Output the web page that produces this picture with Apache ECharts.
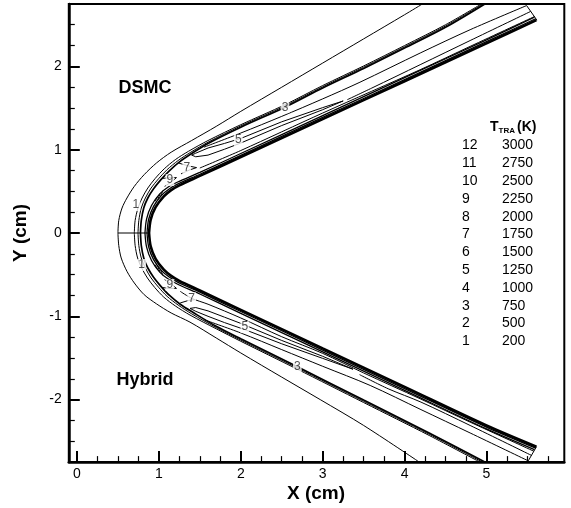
<!DOCTYPE html>
<html>
<head>
<meta charset="utf-8">
<script src="https://cdn.jsdelivr.net/npm/echarts@6/dist/echarts.min.js"></script>
<style>
html,body{margin:0;padding:0;background:#fff;}
#chart{width:571px;height:508px;}
</style>
</head>
<body>
<div id="chart"></div>
<script>
// Translational temperature contours around a blunted cone: DSMC (upper half) vs Hybrid (lower half)
const FONT = '"Liberation Sans", Arial, Helvetica, sans-serif';

// ---- axis ticks ----
const xMajorTicks = [0, 1, 2, 3, 4, 5];
const xMinorTicks = [0.25, 0.5, 0.75, 1.25, 1.5, 1.75, 2.25, 2.5, 2.75, 3.25, 3.5, 3.75, 4.25, 4.5, 4.75, 5.25, 5.5, 5.75];
const yMajorTicks = [-2, -1, 0, 1, 2];
const yMinorTicks = [-2.5, -2.25, -1.75, -1.5, -1.25, -0.75, -0.5, -0.25, 0.25, 0.5, 0.75, 1.25, 1.5, 1.75, 2.25, 2.5];

// ---- contour level table ----
const legendLevels = ['12', '11', '10', '9', '8', '7', '6', '5', '4', '3', '2', '1'];
const legendTemps = ['3000', '2750', '2500', '2250', '2000', '1750', '1500', '1250', '1000', '750', '500', '200'];

// ---- body surface ----
const wallUpper = [[0.88,0],[0.90,0.16],[0.96,0.31],[1.06,0.44],[1.15,0.515],[1.25,0.572],[1.5,0.685],[2.0,0.912],[3.0,1.367],[4.0,1.822],[5.0,2.277],[5.61,2.555]];
const wallLower = [[0.88,0],[0.90,-0.16],[0.96,-0.31],[1.06,-0.44],[1.15,-0.515],[1.25,-0.575],[1.5,-0.69],[2.0,-0.922],[3.0,-1.385],[4.0,-1.847],[5.0,-2.31],[5.61,-2.565]];

// ---- boundary-layer contours hugging the wall ----
const bl1Upper = [[0.855,0],[0.875,0.165],[0.935,0.32],[1.035,0.455],[1.13,0.532],[1.24,0.592],[1.5,0.705],[2.0,0.932],[3.0,1.387],[4.0,1.842],[5.0,2.297],[5.60,2.572]];
const bl2Upper = [[0.83,0],[0.85,0.17],[0.91,0.33],[1.01,0.47],[1.11,0.55],[1.23,0.612],[1.5,0.727],[2.0,0.954],[3.0,1.409],[4.0,1.864],[5.0,2.319],[5.585,2.59]];
const bl1Lower = [[0.855,0],[0.875,-0.165],[0.935,-0.32],[1.035,-0.455],[1.13,-0.532],[1.24,-0.595],[1.5,-0.71],[2.0,-0.942],[3.0,-1.405],[4.0,-1.867],[5.0,-2.33],[5.60,-2.582]];
const bl2Lower = [[0.83,0],[0.85,-0.17],[0.91,-0.33],[1.01,-0.47],[1.11,-0.55],[1.23,-0.615],[1.5,-0.732],[2.0,-0.964],[3.0,-1.427],[4.0,-1.889],[5.0,-2.352],[5.585,-2.60]];

// ---- outermost contour ----
const outerUpper = [[0.50,0],[0.51,0.15],[0.55,0.30],[0.61,0.42],[0.70,0.56],[0.82,0.70],[0.97,0.84],[1.15,0.97],[1.40,1.11],[1.70,1.28],[2.0,1.46],[2.5,1.75],[3.0,2.04],[3.5,2.33],[4.0,2.62],[4.22,2.75]];
const outerLower = [[0.50,0],[0.51,-0.15],[0.54,-0.30],[0.61,-0.46],[0.70,-0.60],[0.82,-0.74],[0.97,-0.85],[1.15,-0.96],[1.38,-1.07],[1.70,-1.26],[2.0,-1.44],[2.5,-1.73],[2.97,-2.0],[3.5,-2.31],[4.18,-2.75]];

// ---- shock band: levels 1, 2, 3 ----
const level1Upper = [[0.70,0],[0.71,0.15],[0.745,0.30],[0.795,0.42],[0.865,0.54],[0.955,0.655],[1.065,0.77],[1.20,0.88],[1.36,0.98],[1.6,1.11],[2.0,1.30],[2.54,1.54],[3.0,1.77],[3.5,2.005],[4.0,2.25],[4.5,2.50],[4.94,2.75]];
const level2Upper = [[0.745,0],[0.755,0.15],[0.785,0.30],[0.835,0.42],[0.905,0.54],[0.995,0.65],[1.10,0.76],[1.235,0.87],[1.39,0.97],[1.6,1.09],[2.0,1.285],[2.54,1.525],[3.0,1.755],[3.5,1.99],[4.0,2.235],[4.5,2.485],[4.96,2.75]];
const level3Upper = [[0.775,0],[0.785,0.15],[0.815,0.30],[0.865,0.42],[0.935,0.53],[1.025,0.64],[1.13,0.75],[1.26,0.86],[1.41,0.96],[1.6,1.075],[2.0,1.27],[2.54,1.51],[3.0,1.74],[3.5,1.975],[4.0,2.22],[4.5,2.47],[4.98,2.75]];
const level1Lower = [[0.70,0],[0.71,-0.15],[0.74,-0.30],[0.79,-0.42],[0.86,-0.54],[0.95,-0.655],[1.06,-0.77],[1.20,-0.875],[1.38,-0.985],[1.7,-1.15],[2.0,-1.30],[2.68,-1.63],[3.5,-2.035],[4.3,-2.43],[4.92,-2.75]];
const level2Lower = [[0.745,0],[0.755,-0.15],[0.785,-0.30],[0.835,-0.42],[0.905,-0.54],[0.995,-0.65],[1.10,-0.76],[1.235,-0.865],[1.40,-0.97],[1.7,-1.135],[2.0,-1.285],[2.68,-1.615],[3.5,-2.02],[4.3,-2.415],[4.95,-2.75]];
const level3Lower = [[0.775,0],[0.785,-0.15],[0.815,-0.30],[0.865,-0.42],[0.935,-0.53],[1.025,-0.64],[1.13,-0.75],[1.26,-0.855],[1.42,-0.955],[1.7,-1.12],[2.0,-1.27],[2.68,-1.60],[3.5,-2.005],[4.3,-2.40],[4.98,-2.75]];

// ---- level 4 branch running to the outflow edge ----
const level4Upper = [[1.55,1.03],[2.0,1.20],[2.5,1.40],[3.0,1.61],[3.455,1.81],[4.19,2.16],[4.8,2.44],[5.49,2.73]];
const level4Lower = [[1.55,-1.04],[2.0,-1.20],[2.5,-1.40],[3.0,-1.60],[3.58,-1.83],[4.2,-2.12],[4.8,-2.40],[5.51,-2.735]];

// ---- outflow edge closing the contours at the end of the body ----
const outflowUpper = [[5.49,2.73],[5.615,2.555]];
const outflowLower = [[5.51,-2.735],[5.61,-2.565]];

// ---- level 5 closed sliver ----
const level5Upper = [[1.40,0.935],[1.45,0.958],[1.6,1.02],[1.8,1.075],[2.0,1.135],[2.5,1.335],[3.0,1.505],[3.25,1.585],[3.0,1.48],[2.5,1.29],[2.0,1.08],[1.8,1.005],[1.6,0.935],[1.45,0.915],[1.40,0.935]];
const level5Lower = [[1.38,-0.905],[1.45,-0.94],[1.6,-1.0],[1.8,-1.075],[2.05,-1.16],[2.5,-1.33],[3.0,-1.505],[3.37,-1.635],[3.0,-1.48],[2.5,-1.29],[2.0,-1.085],[1.8,-1.01],[1.6,-0.935],[1.45,-0.895],[1.38,-0.905]];

// ---- inner contours near the wall downstream ----
const innerAUpper = [[3.3,1.60],[3.6,1.74],[4.19,2.02],[4.8,2.31],[5.54,2.66]];
const innerBUpper = [[1.50,0.78],[2.0,0.99],[3.0,1.44],[4.19,1.96],[4.8,2.24],[5.59,2.60]];
const innerALower = [[3.45,-1.70],[3.8,-1.87],[4.2,-2.03],[4.8,-2.31],[5.55,-2.67]];
const innerBLower = [[1.26,-0.70],[1.40,-0.784],[1.6,-0.855],[2.0,-1.02],[2.5,-1.245],[3.0,-1.445],[3.5,-1.68],[4.19,-1.99],[4.8,-2.27],[5.58,-2.62]];

// ---- nose loops (levels 7 and 9) ----
const level9Upper = [[1.04,0.655],[1.14,0.665],[1.215,0.665],[1.15,0.61],[1.07,0.56]];
const level7Upper = [[1.24,0.84],[1.36,0.805],[1.46,0.785],[1.37,0.755],[1.27,0.71]];
const level9Lower = [[1.04,-0.655],[1.14,-0.665],[1.215,-0.665],[1.15,-0.61],[1.07,-0.56]];
const level7Lower = [[1.26,-0.84],[1.36,-0.81],[1.44,-0.80]];

// small closed loops between the shock band and the wall near the nose
const noseTicksUpper = [[[0.955,0.38],[0.985,0.44]], [[0.985,0.40],[1.015,0.47]], [[1.02,0.44],[1.05,0.51]]];
const noseTicksLower = [[[0.955,-0.38],[0.985,-0.44]], [[0.985,-0.40],[1.015,-0.47]], [[1.02,-0.44],[1.05,-0.51]]];

// stagnation-line divider between the two halves
const stagnationLine = [[0.50,0],[0.88,0]];

// ---- contour level labels: [x, y, text] ----
const contourLabels = [
  [0.72, 0.336, '1'], [1.135, 0.636, '9'], [1.34, 0.78, '7'], [1.97, 1.116, '5'], [2.54, 1.51, '3'],
  [0.79, -0.384, '1'], [1.135, -0.624, '9'], [1.40, -0.784, '7'], [2.05, -1.13, '5'], [2.69, -1.60, '3']
];

function lineSeries(data, width, smooth) {
  return {
    type: 'line', data: data, showSymbol: false, symbol: 'none', smooth: smooth ? 0.3 : false,
    lineStyle: { color: '#000', width: width }, clip: true, silent: true, z: 3
  };
}

const series = [];
[wallUpper, wallLower].forEach(d => series.push(lineSeries(d, 2.6, true)));
[bl1Upper, bl2Upper, bl1Lower, bl2Lower].forEach(d => series.push(lineSeries(d, 1.3, true)));
[outerUpper, outerLower].forEach(d => series.push(lineSeries(d, 1, true)));
[level1Upper, level2Upper, level1Lower, level2Lower].forEach(d => series.push(lineSeries(d, 1, true)));
[level3Upper, level3Lower].forEach(d => series.push(lineSeries(d, 1.7, true)));
[level4Upper, level4Lower, innerAUpper, innerBUpper, innerALower, innerBLower].forEach(d => series.push(lineSeries(d, 1, true)));
[outflowUpper, outflowLower, level5Upper, level5Lower, level9Upper, level7Upper, level9Lower, level7Lower, stagnationLine].forEach(d => series.push(lineSeries(d, 1, false)));
noseTicksUpper.concat(noseTicksLower).forEach(d => series.push(lineSeries(d, 1, false)));

series.push({
  type: 'scatter', data: contourLabels, symbolSize: 1, itemStyle: { color: 'rgba(0,0,0,0)' }, z: 10, silent: true,
  label: {
    show: true, position: 'inside', formatter: p => p.value[2],
    fontFamily: FONT, fontSize: 12, color: '#222', backgroundColor: '#fff', padding: [0, 1]
  }
});

// ---- text overlays ----
const graphics = [
  { type: 'text', x: 145, y: 88.5, style: { text: 'DSMC', font: 'bold 18px ' + FONT, fill: '#000', align: 'center', verticalAlign: 'middle' } },
  { type: 'text', x: 145, y: 380, style: { text: 'Hybrid', font: 'bold 18px ' + FONT, fill: '#000', align: 'center', verticalAlign: 'middle' } },
  { type: 'text', x: 316, y: 494, style: { text: 'X (cm)', font: 'bold 19px ' + FONT, fill: '#000', align: 'center', verticalAlign: 'middle' } },
  { type: 'text', x: 21, y: 233, rotation: Math.PI / 2, style: { text: 'Y (cm)', font: 'bold 19px ' + FONT, fill: '#000', align: 'center', verticalAlign: 'middle' } },
  { type: 'text', x: 490, y: 127, style: { text: 'T', font: 'bold 14px ' + FONT, fill: '#000', align: 'left', verticalAlign: 'middle' } },
  { type: 'text', x: 498.5, y: 130.5, style: { text: 'TRA', font: 'bold 8px ' + FONT, fill: '#000', align: 'left', verticalAlign: 'middle' } },
  { type: 'text', x: 517, y: 127, style: { text: '(K)', font: 'bold 14px ' + FONT, fill: '#000', align: 'left', verticalAlign: 'middle' } }
];
legendLevels.forEach((lv, i) => {
  const y = 145.5 + 17.8 * i;
  graphics.push({ type: 'text', x: 462, y: y, style: { text: lv, font: '14px ' + FONT, fill: '#000', align: 'left', verticalAlign: 'middle' } });
  graphics.push({ type: 'text', x: 502, y: y, style: { text: legendTemps[i], font: '14px ' + FONT, fill: '#000', align: 'left', verticalAlign: 'middle' } });
});

const axisBase = { type: 'value', splitLine: { show: false }, scale: false };

const option = {
  backgroundColor: '#fff',
  animation: false,
  grid: { left: 68.8, right: 6.7, top: 3.9, bottom: 45.9, show: true, borderColor: '#000', borderWidth: 2, backgroundColor: 'transparent', containLabel: false, outerBoundsMode: 'none' },
  xAxis: [
    Object.assign({}, axisBase, {
      min: -0.1, max: 5.95, position: 'bottom',
      axisLine: { show: true, onZero: false, lineStyle: { color: '#000', width: 2.5 } },
      axisTick: { show: true, inside: true, length: 11, customValues: xMajorTicks, lineStyle: { color: '#000', width: 2 } },
      axisLabel: { show: true, customValues: xMajorTicks, fontFamily: FONT, fontSize: 14, color: '#000', margin: 5 }
    }),
    Object.assign({}, axisBase, {
      min: -0.1, max: 5.95, position: 'bottom',
      axisLine: { show: false, onZero: false },
      axisTick: { show: true, inside: true, length: 6, customValues: xMinorTicks, lineStyle: { color: '#000', width: 1.2 } },
      axisLabel: { show: false }
    })
  ],
  yAxis: [
    Object.assign({}, axisBase, {
      min: -2.75, max: 2.75, position: 'left',
      axisLine: { show: true, onZero: false, lineStyle: { color: '#000', width: 2.5 } },
      axisTick: { show: true, inside: true, length: 11, customValues: yMajorTicks, lineStyle: { color: '#000', width: 2 } },
      axisLabel: { show: true, customValues: yMajorTicks, fontFamily: FONT, fontSize: 14, color: '#000', margin: 7 }
    }),
    Object.assign({}, axisBase, {
      min: -2.75, max: 2.75, position: 'left',
      axisLine: { show: false, onZero: false },
      axisTick: { show: true, inside: true, length: 6, customValues: yMinorTicks, lineStyle: { color: '#000', width: 1.2 } },
      axisLabel: { show: false }
    })
  ],
  series: series,
  graphic: graphics
};

const chart = echarts.init(document.getElementById('chart'), null, { renderer: 'canvas' });
chart.setOption(option);
</script>
</body>
</html>
